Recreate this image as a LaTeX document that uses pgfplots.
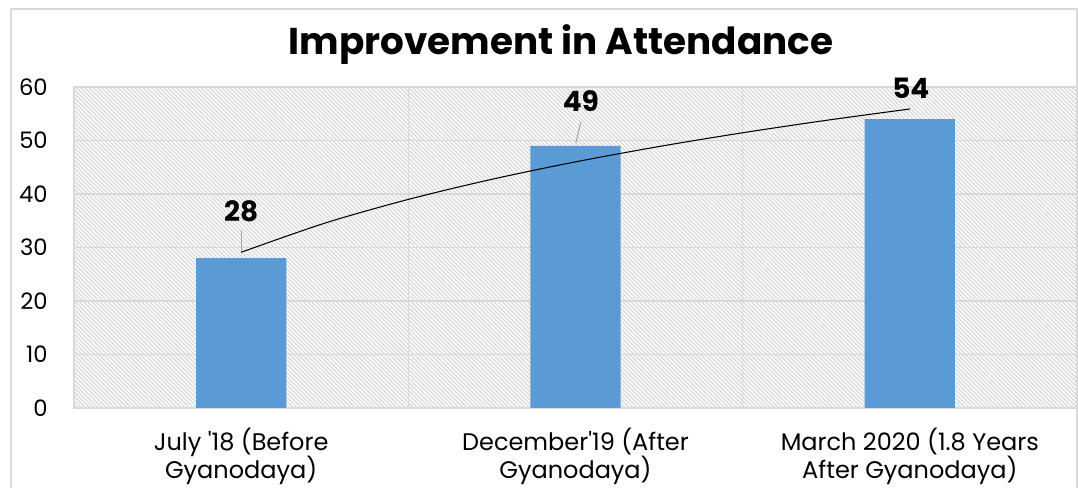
\documentclass[border=0pt]{standalone}
\usepackage{fontspec}
\setmainfont{Poppins}
\usepackage{pgfplots}
\pgfplotsset{compat=1.18}
\usetikzlibrary{patterns.meta}
\definecolor{barblue}{HTML}{5B9BD5}
\definecolor{gridgray}{HTML}{D9D9D9}
\definecolor{hatch}{HTML}{DADADA}
\definecolor{leader}{HTML}{A6A6A6}
\begin{document}
\begin{tikzpicture}
\useasboundingbox (0,0) rectangle (808.5pt,366pt);
\clip (0,0) rectangle (808.5pt,366pt);
\fill[white] (0,0) rectangle (808.5pt,366pt);
\draw[gridgray, line width=1.1pt] (8.25pt,-10pt) -- (8.25pt,359.25pt) -- (807.75pt,359.25pt) -- (807.75pt,-10pt);
\node[anchor=base, inner sep=0pt, font=\fontsize{28}{34}\selectfont\bfseries] at (420.75pt,325pt) {Improvement in Attendance};
\begin{axis}[
  at={(55.5pt,60pt)}, anchor=south west,
  scale only axis, width=752.25pt, height=240.75pt,
  xmin=-0.5, xmax=2.5, ymin=0, ymax=60,
  ytick={0,10,...,60},
  xtick={0,1,2},
  xticklabels={{July \textquotesingle18 (Before\\Gyanodaya)},{December\textquotesingle19 (After\\Gyanodaya)},{March 2020 (1.8 Years\\After Gyanodaya)}},
  minor xtick={-0.5,0.5,1.5,2.5},
  ymajorgrids, xminorgrids,
  grid style={gridgray, line width=1.1pt},
  minor grid style={gridgray, line width=1.1pt},
  axis line style={gridgray, line width=1.1pt},
  major tick length=0pt, minor tick length=0pt,
  tick style={draw=none},
  axis background/.style={pattern={Lines[angle=-45,distance=2.2pt,line width=1pt]}, pattern color=hatch},
  /pgf/number format/assume math mode=true,
  yticklabel style={font=\fontsize{17}{19}\selectfont, anchor=east, inner sep=0pt, xshift=-19.5pt},
  xticklabel style={font=\fontsize{18}{21.5}\selectfont, align=center, anchor=north, inner sep=0pt, yshift=-14.5pt},
  clip=false,
]
\addplot[ybar, bar width=0.27, fill=barblue, draw=none] coordinates {(0,28) (1,49) (2,54)};
\addplot[black, line width=0.8pt, smooth, no marks] coordinates {
(0,29.106) (0.25,34.546) (0.5,38.991) (0.75,42.749) (1,46.005) (1.25,48.877) (1.5,51.445) (1.75,53.769) (2,55.890)};
\draw[leader, line width=0.8pt] (axis cs:0,33.3) -- (axis cs:0,29.3);
\draw[leader, line width=0.8pt] (axis cs:1.016,53.5) -- (axis cs:1.001,49.5);
\node[anchor=base, inner sep=0pt, font=\fontsize{21}{26}\selectfont\bfseries] at (axis cs:0,34.8) {28};
\node[anchor=base, inner sep=0pt, font=\fontsize{21}{26}\selectfont\bfseries] at (axis cs:1.016,55.5) {49};
\node[anchor=base, inner sep=0pt, font=\fontsize{21}{26}\selectfont\bfseries] at (axis cs:2.003,57.9) {54};
\end{axis}
\end{tikzpicture}
\end{document}
